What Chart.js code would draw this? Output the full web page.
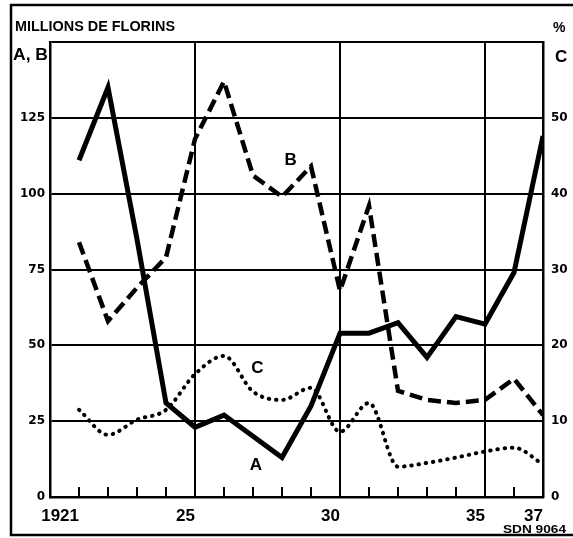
<!DOCTYPE html>
<html>
<head>
<meta charset="utf-8">
<script src="https://cdn.jsdelivr.net/npm/chart.js@4.4.1/dist/chart.umd.min.js"></script>
<style>
html, body { margin: 0; padding: 0; background: #fff; }
canvas { display: block; }
</style>
</head>
<body>
<canvas id="grafico" width="573" height="538"></canvas>
<script>
// =======================
// DONNÉES
// =======================
const annees = [1921, 1922, 1923, 1924, 1925, 1926, 1927, 1928, 1929, 1930, 1931, 1932, 1933, 1934, 1935, 1936, 1937];
const serieA = [111, 135, 85, 31, 23, 27, 20, 13, 30, 54, 54, 57.5, 46, 59.5, 57, 74, 119];
const serieB = [84, 58, 69, 79, 118, 137, 106, 99, 109, 68, 96, 35, 32, 31, 32, 39, 27];
const serieC = [11.5, 8.2, 10.2, 11.5, 16.2, 18.6, 13.9, 12.8, 14.4, 8.6, 12.4, 4.0, 4.5, 5.2, 6.0, 6.5, 4.3];

const etiquettesX = { 1921: '1921', 1925: '25', 1930: '30', 1935: '35', 1937: '37' };
const lignesVerticales = [1920, 1925, 1930, 1935, 1937];
const ticksGauche = [0, 25, 50, 75, 100, 125];
const ticksDroite = [0, 10, 20, 30, 40, 50];

const points = serie => annees.map((a, i) => ({ x: a, y: serie[i] }));

// petits traits sur l'axe des années
const petitsTraits = {
    id: 'petitsTraits',
    beforeDatasetsDraw(chart) {
        const { ctx, chartArea, scales: { x } } = chart;
        ctx.save();
        ctx.strokeStyle = '#000';
        ctx.lineWidth = 2;
        annees.forEach(a => {
            const px = x.getPixelForValue(a);
            ctx.beginPath();
            ctx.moveTo(px, chartArea.bottom);
            ctx.lineTo(px, chartArea.bottom - 10);
            ctx.stroke();
        });
        ctx.restore();
    }
};

// textes et cadre extérieur
function texteLarge(ctx, txt, x, y, largeur) {
    const w = ctx.measureText(txt).width;
    ctx.save();
    ctx.translate(x, y);
    ctx.scale(largeur / w, 1);
    ctx.fillText(txt, 0, 0);
    ctx.restore();
}

const textes = {
    id: 'textes',
    afterDraw(chart) {
        const { ctx, scales: { x, y } } = chart;
        ctx.save();
        ctx.strokeStyle = '#000';
        ctx.lineWidth = 2.5;
        ctx.beginPath();
        ctx.moveTo(573, 5);
        ctx.lineTo(11, 5);
        ctx.lineTo(11, 535);
        ctx.lineTo(573, 535);
        ctx.stroke();

        ctx.fillStyle = '#000';
        ctx.textBaseline = 'middle';
        ctx.textAlign = 'left';
        ctx.font = 'bold 14px "Liberation Sans", sans-serif';
        texteLarge(ctx, 'MILLIONS DE FLORINS', 15, 27, 160);
        ctx.font = 'bold 16px "Liberation Sans", sans-serif';
        texteLarge(ctx, 'A, B', 13, 56, 35);
        ctx.font = 'bold 14px "Liberation Sans", sans-serif';
        ctx.fillText('%', 553, 28);
        ctx.font = 'bold 17px "Liberation Sans", sans-serif';
        ctx.fillText('C', 555, 57);

        ctx.textAlign = 'center';
        ctx.font = 'bold 17px "Liberation Sans", sans-serif';
        ctx.fillText('A', x.getPixelForValue(1927.1), y.getPixelForValue(10.5));
        ctx.fillText('B', x.getPixelForValue(1928.3), y.getPixelForValue(111));
        ctx.fillText('C', x.getPixelForValue(1927.15), y.getPixelForValue(42.5));

        ctx.textAlign = 'left';
        ctx.font = 'bold 10px "Liberation Sans", sans-serif';
        texteLarge(ctx, 'SDN 9064', 503, 530, 63);
        ctx.restore();
    }
};

new Chart(document.getElementById('grafico'), {
    type: 'line',
    data: {
        datasets: [
            {
                label: 'C',
                data: points(serieC),
                yAxisID: 'y1',
                borderColor: '#000',
                borderWidth: 4,
                borderDash: [0.5, 6.8],
                borderCapStyle: 'round',
                cubicInterpolationMode: 'monotone',
                pointRadius: 0
            },
            {
                label: 'B',
                data: points(serieB),
                yAxisID: 'y',
                borderColor: '#000',
                borderWidth: 4.5,
                borderDash: [13, 6],
                tension: 0,
                pointRadius: 0
            },
            {
                label: 'A',
                data: points(serieA),
                yAxisID: 'y',
                borderColor: '#000',
                borderWidth: 5,
                tension: 0,
                pointRadius: 0
            }
        ]
    },
    options: {
        responsive: false,
        animation: false,
        layout: { padding: { top: 42, left: 0, right: 0, bottom: 0 } },
        plugins: {
            legend: { display: false },
            tooltip: { enabled: false }
        },
        scales: {
            x: {
                type: 'linear',
                min: 1920,
                max: 1937,
                afterFit: s => { s.height = 41; },
                grid: {
                    color: c => lignesVerticales.includes(c.tick.value) ? '#000' : 'rgba(0,0,0,0)',
                    lineWidth: 2,
                    drawTicks: false
                },
                border: { display: true, color: '#000', width: 2.5 },
                ticks: {
                    stepSize: 1,
                    autoSkip: false,
                    maxRotation: 0,
                    align: 'end',
                    padding: 9,
                    color: '#000',
                    font: { family: '"Liberation Sans", sans-serif', size: 17, weight: 'bold' },
                    callback: v => etiquettesX[v] || ''
                }
            },
            y: {
                position: 'left',
                min: 0,
                max: 150,
                afterFit: s => { s.width = 50; },
                grid: { color: '#000', lineWidth: 2, drawTicks: false },
                border: { display: true, color: '#000', width: 2.5 },
                ticks: {
                    stepSize: 25,
                    padding: 5,
                    color: '#000',
                    font: { family: '"DejaVu Sans", sans-serif', size: 12, weight: 'bold' },
                    callback: v => ticksGauche.includes(v) ? String(v) : ''
                }
            },
            y1: {
                position: 'right',
                min: 0,
                max: 60,
                afterFit: s => { s.width = 30; },
                grid: { display: false, drawTicks: false },
                border: { display: true, color: '#000', width: 2.5 },
                ticks: {
                    stepSize: 10,
                    padding: 8,
                    color: '#000',
                    font: { family: '"DejaVu Sans", sans-serif', size: 12, weight: 'bold' },
                    callback: v => ticksDroite.includes(v) ? String(v) : ''
                }
            }
        }
    },
    plugins: [petitsTraits, textes]
});
</script>
</body>
</html>
